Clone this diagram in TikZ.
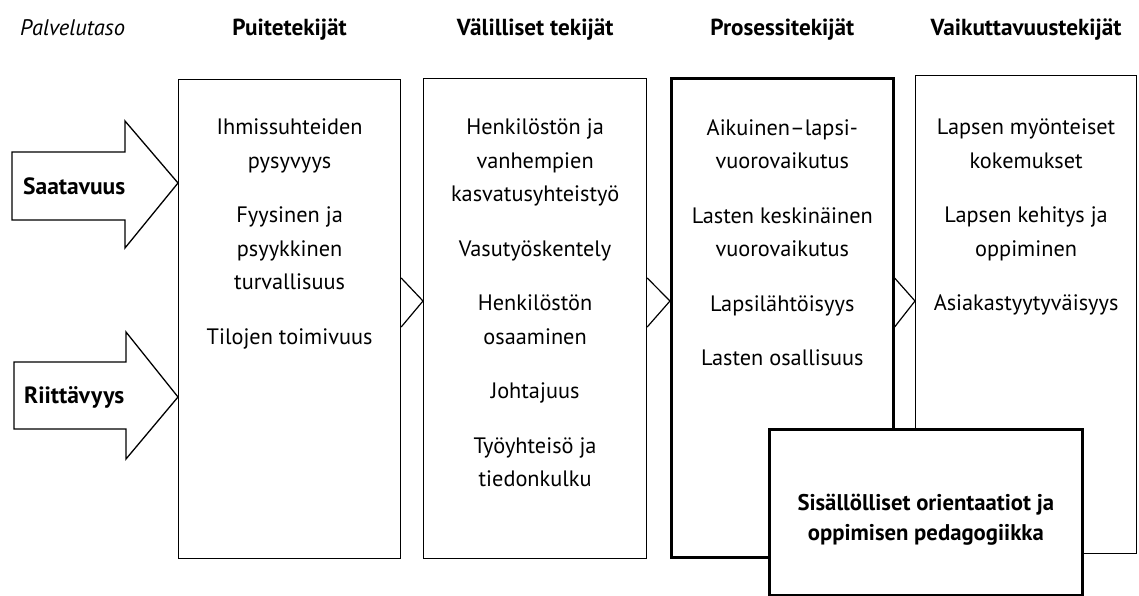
\documentclass[tikz,border=0pt]{standalone}
\usepackage{fontspec}
\setmainfont{PT Sans}
\usetikzlibrary{calc}
\tikzset{
	box/.style={draw, line width=1.2pt, fill=white, inner sep=0pt, anchor=north west},
	boldbox/.style={box, line width=2.6pt},
	tab/.style={draw, line width=1.2pt, line join=miter},
	bigarrow/.style={draw, line width=1.3pt, fill=white, line join=miter},
	itemlist/.style={align=center, inner sep=0pt, anchor=north, font=\fontsize{22.3}{33.5}\selectfont},
	heading/.style={anchor=base, inner sep=0pt, font=\fontsize{23.2}{28}\selectfont\bfseries},
	arrowlabel/.style={anchor=west, inner sep=0pt, font=\fontsize{23.5}{28}\selectfont\bfseries},
}
\newcommand{\itemgap}{\\[21pt]}

\begin{document}
\begin{tikzpicture}[x=1pt, y=-1pt]
			\useasboundingbox (0,0) rectangle (1139,596);
			%%%%% START %%%%%
			
			\node[box, minimum width=222pt, minimum height=479pt] (puite) at (178,79) {};
			\node[box, minimum width=223pt, minimum height=480pt] (valil) at (423,78) {};
			\node[boldbox, minimum width=222pt, minimum height=479pt] (prosessi) at (670,77) {};
			\node[box, minimum width=221pt, minimum height=478pt] (vaikutus) at (915,75) {};
			\node[boldbox, minimum width=313pt, minimum height=166pt] (sisalto) at (768,428) {};
			
			\foreach \a/\b in {puite/valil, valil/prosessi, prosessi/vaikutus}
				\draw[tab] (\a.east |- 0,278) -- (\b.west |- 0,301) -- (\a.east |- 0,327);
			
			\draw[bigarrow] (12,152) -- (125,152) -- (125,121) -- (puite.west |- 0,183) -- (125,248) -- (125,220) -- (12,220) -- cycle;
			\draw[bigarrow] (14,362) -- (126,362) -- (126,332) -- (puite.west |- 0,397) -- (126,459) -- (126,429) -- (14,429) -- cycle;
			\node[arrowlabel] (saatavuus) at (23,186) {Saatavuus};
			\node[arrowlabel] (riittavyys) at (24,397) {Riittävyys};
			
			\node[heading, anchor=base west, font=\fontsize{22.5}{28}\selectfont\itshape] (taso) at (20,36) {Palvelutaso};
			\node[heading] (puiteotsikko) at (puite.north |- 0,36) {Puitetekijät};
			\node[heading] (valilotsikko) at (valil.north |- 0,36) {Välilliset tekijät};
			\node[heading] (prosessiotsikko) at (prosessi.north |- 0,36) {Prosessitekijät};
			\node[heading] (vaikutusotsikko) at (vaikutus.north |- 0,36) {Vaikuttavuustekijät};
			
			\node[itemlist] (puiteteksti) at (puite.north |- 0,119) {Ihmissuhteiden\\pysyvyys\itemgap Fyysinen ja\\psyykkinen\\turvallisuus\itemgap Tilojen toimivuus};
			\node[itemlist] (valilteksti) at (valil.north |- 0,119) {Henkilöstön ja\\vanhempien\\kasvatusyhteistyö\itemgap Vasutyöskentely\itemgap Henkilöstön\\osaaminen\itemgap Johtajuus\itemgap Työyhteisö ja\\tiedonkulku};
			\node[itemlist] (prosessiteksti) at (prosessi.north |- 0,119) {Aikuinen–lapsi-\\vuorovaikutus\itemgap Lasten keskinäinen\\vuorovaikutus\itemgap Lapsilähtöisyys\itemgap Lasten osallisuus};
			\node[itemlist] (vaikutusteksti) at (vaikutus.north |- 0,119) {Lapsen myönteiset\\kokemukset\itemgap Lapsen kehitys ja\\oppiminen\itemgap Asiakastyytyväisyys};
			
			\node[align=center, inner sep=0pt, font=\fontsize{22.7}{30}\selectfont\bfseries] (sisaltoteksti) at ($(sisalto.center)+(0,7)$) {Sisällölliset orientaatiot ja\\oppimisen pedagogiikka};
			
			%%%%% END %%%%%
		\end{tikzpicture}
\end{document}
